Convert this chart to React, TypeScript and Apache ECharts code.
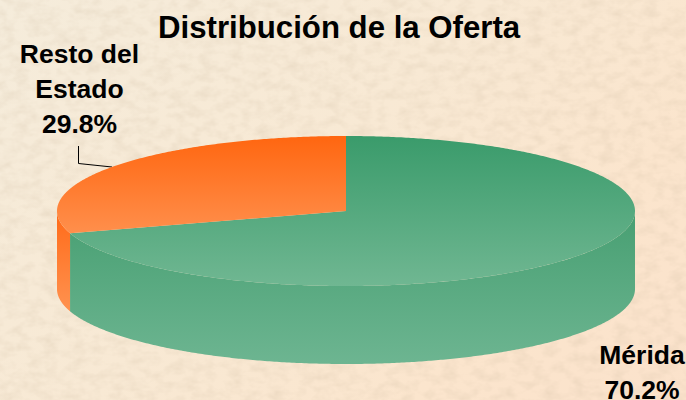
import React, { useEffect, useRef } from "react";
import * as echarts from "echarts";

const titleText = "Distribución de la Oferta";
const categories = ["Mérida", "Resto del\nEstado"];
const shares = [70.2, 29.8];

const topColors = [["#3A9B6B", "#70B792"], ["#FF6610", "#FF8F4C"]];
const wallColors = [["#479F72", "#6DB591"], ["#FF6A18", "#FF9250"]];

const CX = 346;
const CY = 211;
const RX = 289;
const RY = 75;
const DEPTH = 78;
const FONT = "'Liberation Sans', Arial, sans-serif";

const TEXTURE =
  "url(\"data:image/svg+xml,%3Csvg xmlns='http://www.w3.org/2000/svg' width='686' height='400'%3E%3Cfilter id='n'%3E%3CfeTurbulence type='fractalNoise' baseFrequency='0.07 0.11' numOctaves='3' seed='7'/%3E%3CfeColorMatrix values='0 0 0 0 0.6 0 0 0 0 0.48 0 0 0 0 0.34 0 0 0 0.45 -0.17'/%3E%3C/filter%3E%3Crect width='686' height='400' filter='url(%23n)'/%3E%3C/svg%3E\")";

function rimPoint(deg: number, dy = 0): number[] {
  const a = (deg * Math.PI) / 180;
  return [CX + RX * Math.sin(a), CY - RY * Math.cos(a) + dy];
}

function arcPoints(from: number, to: number, dy = 0): number[][] {
  const pts: number[][] = [];
  const steps = Math.max(2, Math.ceil(Math.abs(to - from) * 2));
  for (let i = 0; i <= steps; i++) pts.push(rimPoint(from + ((to - from) * i) / steps, dy));
  return pts;
}

function vGrad(c: string[]) {
  return new echarts.graphic.LinearGradient(0, 0, 0, 1, [
    { offset: 0, color: c[0] },
    { offset: 1, color: c[1] },
  ]);
}

function renderSlice(params: any, api: any) {
  const i = params.dataIndex;
  const total = shares.reduce((s, v) => s + v, 0);
  let before = 0;
  for (let k = 0; k < i; k++) before += shares[k];
  const start = (before / total) * 360;
  const end = start + (api.value(0) / total) * 360;

  const children: any[] = [];
  // Only the front half of the rim (90 to 270 degrees) shows a wall.
  const wFrom = Math.max(start, 90);
  const wTo = Math.min(end, 270);
  if (wTo > wFrom) {
    const upper = arcPoints(wFrom, wTo);
    const lower = arcPoints(wTo, wFrom, DEPTH);
    children.push({
      type: "polygon",
      shape: { points: [...upper, ...lower] },
      style: { fill: vGrad(wallColors[i]) },
    });
  }
  children.push({
    type: "polygon",
    shape: { points: [[CX, CY], ...arcPoints(start, end)] },
    style: { fill: vGrad(topColors[i]) },
  });
  return { type: "group", children };
}

export default function App() {
  const ref = useRef<HTMLDivElement>(null);
  useEffect(() => {
    document.body.style.margin = "0";
    const chart = echarts.init(ref.current!, undefined, { renderer: "svg" });
    const labelStyle = {
      font: `bold 26.5px ${FONT}`,
      fill: "#000",
      textAlign: "center",
      textVerticalAlign: "top",
      lineHeight: 35,
    };
    chart.setOption({
      animation: false,
      backgroundColor: "transparent",
      title: {
        text: titleText,
        left: 158,
        top: 12,
        padding: 0,
        textStyle: { fontFamily: FONT, fontSize: 31.2, fontWeight: "bold", color: "#000" },
      },
      xAxis: { show: false, min: 0, max: 1 },
      yAxis: { show: false, min: 0, max: 1 },
      grid: { left: 0, right: 0, top: 0, bottom: 0 },
      series: [
        {
          type: "custom",
          coordinateSystem: "none",
          renderItem: renderSlice,
          data: shares.map((v, i) => ({ value: [v], name: categories[i] })),
          silent: true,
        },
      ],
      graphic: [
        {
          type: "text",
          x: 79.5,
          y: 36,
          style: { ...labelStyle, text: `${categories[1]}\n${shares[1].toFixed(1)}%` },
        },
        {
          type: "text",
          x: 642,
          y: 337,
          style: { ...labelStyle, text: categories[0] },
        },
        {
          type: "text",
          x: 642,
          y: 380,
          style: { ...labelStyle, lineHeight: 20, text: `${shares[0].toFixed(1)}%` },
        },
        {
          type: "polyline",
          shape: { points: [[78.5, 146], [78.5, 163.5], [112, 167]] },
          style: { stroke: "#000", lineWidth: 1, fill: "none" },
        },
      ],
    });
    return () => chart.dispose();
  }, []);
  return (
    <div
      ref={ref}
      style={{
        width: 686,
        height: 400,
        background: `${TEXTURE}, linear-gradient(135deg, #F5ECDB 0%, #F8E9D4 45%, #FBE5CD 75%, #FBE2CB 100%)`,
      }}
    />
  );
}
